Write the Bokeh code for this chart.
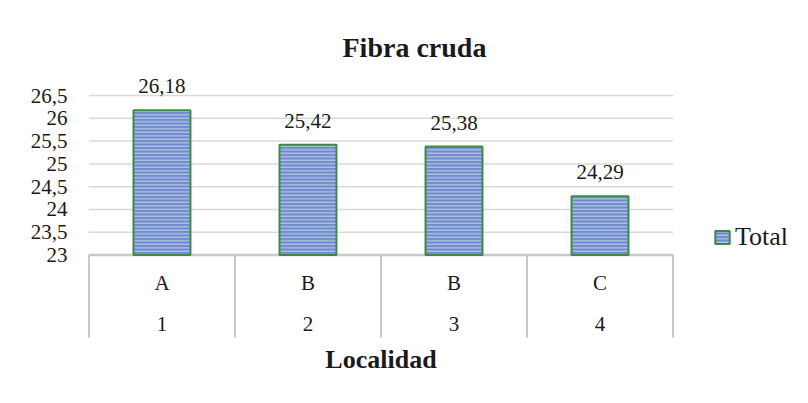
from bokeh.plotting import figure
from bokeh.models import (ColumnDataSource, FixedTicker, Range1d,
                          LabelSet, Label, Legend, LegendItem)
from bokeh.embed import file_html
from bokeh.resources import INLINE
import numpy as np

# ---- data ----
localidades = ["1", "2", "3", "4"]
letras = ["A", "B", "B", "C"]
fibra = [26.18, 25.42, 25.38, 24.29]
y_ticks = [23, 23.5, 24, 24.5, 25, 25.5, 26, 26.5]
y_tick_labels = ["23", "23,5", "24", "24,5", "25", "25,5", "26", "26,5"]
serie = "Total"
titulo = "Fibra cruda"
eje_x = "Localidad"

FONT = "Liberation Serif"
TXT = "#1a1a1a"
GRAY = "#c8c8c8"
BASE = 23.0           # bar baseline / top of category table
TABLE_BOTTOM = 21.19  # lower edge of the category table (layout)
Y_TOP = 27.05
Y_BOTTOM = 20.18      # leaves room for the "Localidad" caption (layout)
X_END_EXTRA = 118 / 146.0   # room on the right for the legend (layout)

n = len(fibra)
pos = np.arange(n) + 0.5
edges = np.arange(n + 1)

src = ColumnDataSource(dict(
    x=pos, top=fibra,
    lab=[f"{v:.2f}".replace(".", ",") for v in fibra],
    let=letras, loc=localidades, base=[BASE] * n,
))

p = figure(width=792, height=387, output_backend="svg", toolbar_location=None,
           x_range=Range1d(-0.01, n + 0.01 + X_END_EXTRA),
           y_range=Range1d(Y_BOTTOM, Y_TOP), x_axis_location=None,
           min_border_left=87, min_border_right=0,
           min_border_top=70, min_border_bottom=4)
p.outline_line_color = None
p.background_fill_color = "white"
p.border_fill_color = "white"

# title
p.title.text = titulo
p.title.text_font = FONT
p.title.text_font_style = "bold"
p.title.text_font_size = "28px"
p.title.align = "left"
p.title.offset = 255
p.title.standoff = 16
p.title.text_color = TXT

# y axis
ya = p.yaxis[0]
ya.ticker = FixedTicker(ticks=y_ticks)
ya.major_label_overrides = {t: l for t, l in zip(y_ticks, y_tick_labels)}
ya.axis_line_color = None
ya.major_tick_line_color = None
ya.minor_tick_line_color = None
ya.major_tick_out = 0
ya.major_tick_in = 0
ya.major_label_standoff = 20
ya.major_label_text_font = FONT
ya.major_label_text_font_size = "21px"
ya.major_label_text_color = TXT

p.xgrid.visible = False
p.ygrid.visible = False

# horizontal gridlines over the category span
p.segment(x0=[edges[0]] * len(y_ticks), y0=y_ticks,
          x1=[edges[-1]] * len(y_ticks), y1=y_ticks,
          line_color="#d9d9d9", line_width=1.5)

# category table lines
p.segment(x0=edges, y0=[TABLE_BOTTOM] * (n + 1), x1=edges, y1=[BASE] * (n + 1),
          line_color=GRAY, line_width=2)
p.segment(x0=[edges[0]], y0=[BASE], x1=[edges[-1]], y1=[BASE],
          line_color=GRAY, line_width=2.5)

# bars
bars = p.vbar(x="x", top="top", bottom=BASE, width=0.39, source=src,
              fill_color="#6f8bca", line_color="#3b8a45", line_width=2,
              hatch_pattern="horizontal_line", hatch_color="#c3d0ee",
              hatch_scale=3.5, hatch_weight=1.1)

labels = LabelSet(x="x", y="top", text="lab", source=src, text_align="center",
                  text_baseline="alphabetic", y_offset=17, text_font=FONT,
                  text_font_size="21px", text_color=TXT)
p.add_layout(labels)

let_labels = LabelSet(x="x", y="base", text="let", source=src, text_align="center",
                      text_baseline="middle", y_offset=-28, text_font=FONT,
                      text_font_size="21px", text_color=TXT)
p.add_layout(let_labels)

loc_labels = LabelSet(x="x", y="base", text="loc", source=src, text_align="center",
                      text_baseline="middle", y_offset=-69, text_font=FONT,
                      text_font_size="21px", text_color=TXT)
p.add_layout(loc_labels)

# x-axis caption centred under the categories
p.add_layout(Label(x=n / 2, y=TABLE_BOTTOM, text=eje_x, text_align="center",
                   text_baseline="middle", y_offset=-22, text_font=FONT,
                   text_font_style="bold", text_font_size="26px", text_color=TXT))

legend = Legend(items=[LegendItem(label=serie, renderers=[bars])],
                location=(626, 131), border_line_color=None,
                background_fill_alpha=0, label_text_font=FONT,
                label_text_font_size="26px", label_text_color=TXT,
                glyph_width=18, glyph_height=16, label_standoff=4, padding=4)
p.add_layout(legend)

open("out.html", "w").write(file_html(p, INLINE))
